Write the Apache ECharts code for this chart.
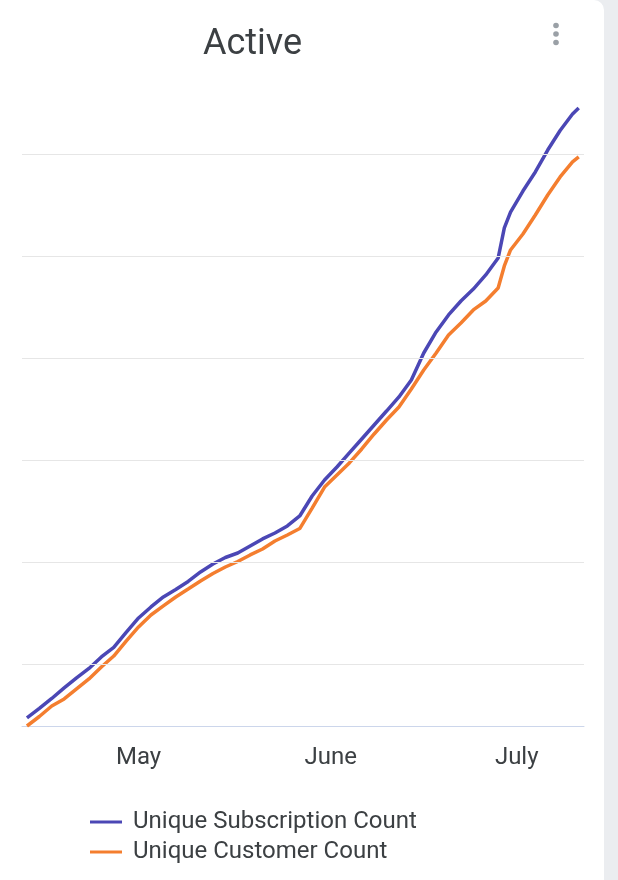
<!DOCTYPE html>
<html><head><meta charset="utf-8">
<script src="https://cdn.jsdelivr.net/npm/echarts@6/dist/echarts.min.js"></script>
<style>
html,body{margin:0;padding:0;background:#ebedf0;overflow:hidden;}
#card{position:absolute;left:0;top:0;width:604px;height:880px;background:#fff;border-top-right-radius:10px;}
#chart{width:604px;height:880px;}
</style></head><body>
<div id="card"><div id="chart"></div></div>
<script>
const dates = ['2023-04-13','2023-04-15','2023-04-17','2023-04-19','2023-04-21','2023-04-23','2023-04-25','2023-04-27','2023-04-29',
  '2023-05-01','2023-05-03','2023-05-05','2023-05-07','2023-05-09','2023-05-11','2023-05-13','2023-05-15','2023-05-17','2023-05-19','2023-05-21','2023-05-23','2023-05-25','2023-05-27','2023-05-29','2023-05-31',
  '2023-06-02','2023-06-04','2023-06-06','2023-06-08','2023-06-10','2023-06-12','2023-06-14','2023-06-16','2023-06-18','2023-06-20','2023-06-22','2023-06-24','2023-06-26','2023-06-28','2023-06-29','2023-06-30',
  '2023-07-02','2023-07-04','2023-07-06','2023-07-08','2023-07-10','2023-07-11'];
const subscriptionCount = [471,564,662,765,863,956,1069,1162,1309,
  1451,1559,1657,1730,1809,1902,1980,2044,2088,2157,2226,2284,2353,2451,2647,2804,
  2931,3069,3206,3343,3480,3618,3784,4049,4255,4422,4559,4676,4814,4980,5275,5431,
  5637,5824,6039,6230,6392,6451];
const customerCount = [392,485,588,657,755,853,971,1078,1225,
  1363,1480,1569,1657,1735,1814,1887,1951,2005,2069,2127,2206,2265,2328,2529,2735,
  2853,2971,3108,3255,3392,3520,3696,3882,4049,4225,4343,4471,4559,4686,4902,5059,
  5216,5402,5598,5775,5922,5971];
const seriesNames = ['Unique Subscription Count','Unique Customer Count'];
const monthTickDates = ['2023-05-01','2023-06-01','2023-07-01'];
const monthTickLabels = ['May','June','July'];
const gridValues = [1000,2000,3000,4000,5000,6000];
const yMin = 392, yMax = 6500;

function toTs(s){const p=s.split('-').map(Number);return Date.UTC(p[0],p[1]-1,p[2]);}
const DAY = 86400000;
const tickTs = monthTickDates.map(toTs);

const chart = echarts.init(document.getElementById('chart'), null, {renderer:'canvas'});
chart.setOption({
  animation:false,
  title:{text:'Active',left:198,top:22,textStyle:{fontSize:36,fontWeight:'normal',color:'#3c4043',fontFamily:'Roboto'}},
  graphic:[
    {type:'circle',shape:{cx:556,cy:25.5,r:2.8},style:{fill:'#9aa0a6'}},
    {type:'circle',shape:{cx:556,cy:34,r:2.8},style:{fill:'#9aa0a6'}},
    {type:'circle',shape:{cx:556,cy:42.5,r:2.8},style:{fill:'#9aa0a6'}}
  ],
  grid:{left:22,right:20,top:103,bottom:154,containLabel:false},
  legend:{orient:'vertical',left:85,top:805,data:seriesNames,icon:'rect',itemWidth:32,itemHeight:3,itemGap:6,
    textStyle:{fontSize:24,color:'#3c4043',fontFamily:'Roboto',padding:[0,0,0,6],lineHeight:22}},
  xAxis:{type:'value',min:toTs(dates[0])-0.8*DAY,max:toTs(dates[dates.length-1])+0.85*DAY,
    axisLine:{show:true,lineStyle:{color:'#ccd6eb',width:1}},axisTick:{show:false},splitLine:{show:false},
    axisLabel:{customValues:tickTs,fontSize:24,color:'#3c4043',fontFamily:'Roboto',margin:20,showMinLabel:true,showMaxLabel:true,
      formatter:function(v){const i=tickTs.indexOf(v);return i>=0?monthTickLabels[i]:'';}}},
  yAxis:{type:'value',min:yMin,max:yMax,axisLabel:{show:false},axisLine:{show:false},axisTick:{show:false},splitLine:{show:false}},
  series:[
    {type:'line',name:'grid',data:[],silent:true,z:1,
      markLine:{silent:true,symbol:['none','none'],label:{show:false},animation:false,
        lineStyle:{color:'#e6e6e6',width:1,type:'solid'},data:gridValues.map(v=>({yAxis:v}))}},
    {type:'line',name:seriesNames[0],data:dates.map((d,i)=>[toTs(d),subscriptionCount[i]]),showSymbol:false,symbol:'none',
      lineStyle:{width:3.5,color:'#4b47b5'},itemStyle:{color:'#4b47b5'},z:3},
    {type:'line',name:seriesNames[1],data:dates.map((d,i)=>[toTs(d),customerCount[i]]),showSymbol:false,symbol:'none',
      lineStyle:{width:3.5,color:'#f47e2f'},itemStyle:{color:'#f47e2f'},z:2}
  ]
});
</script></body></html>
